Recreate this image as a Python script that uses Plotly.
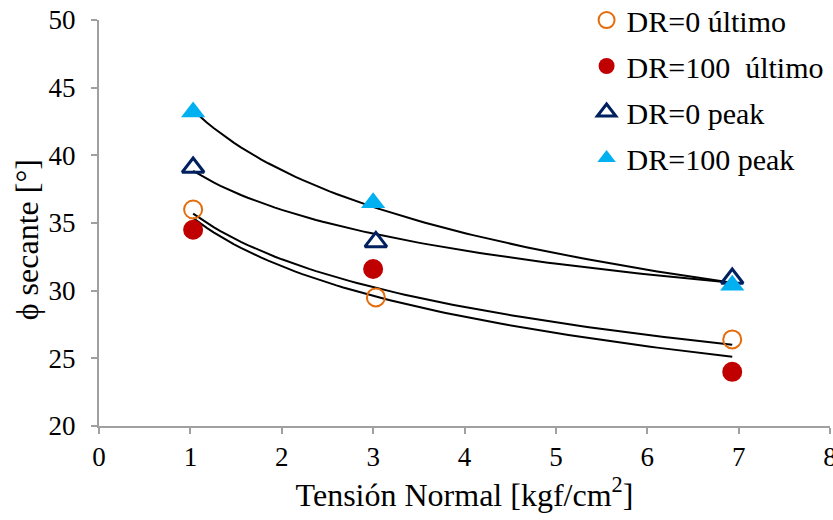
import numpy as np
import plotly.graph_objects as go

# Normal stress [kgf/cm2] and secant friction angle [deg] for each series
x_dr0_ult = [1.03, 3.03, 6.93]
y_dr0_ult = [36.0, 29.5, 26.4]

x_dr100_ult = [1.03, 3.0, 6.93]
y_dr100_ult = [34.5, 31.6, 24.0]

x_dr0_peak = [1.03, 3.03, 6.93]
y_dr0_peak = [39.1, 33.6, 30.9]

x_dr100_peak = [1.03, 3.0, 6.93]
y_dr100_peak = [43.2, 36.5, 30.4]

names = ["DR=0 último", "DR=100\u00a0 último", "DR=0 peak", "DR=100 peak"]

x_ticks = [0, 1, 2, 3, 4, 5, 6, 7, 8]
y_ticks = [20, 25, 30, 35, 40, 45, 50]

FONT = "Liberation Serif"

series = [
    (x_dr0_ult, y_dr0_ult, dict(symbol="circle-open", color="#E46C0A", size=18,
                                line=dict(width=2, color="#E46C0A"))),
    (x_dr100_ult, y_dr100_ult, dict(symbol="circle", color="#C00000", size=20)),
    (x_dr0_peak, y_dr0_peak, dict(symbol="triangle-up-open", color="#002060", size=19,
                                  line=dict(width=3, color="#002060"))),
    (x_dr100_peak, y_dr100_peak, dict(symbol="triangle-up", color="#00B0F0", size=21)),
]

fig = go.Figure()

# Logarithmic trend lines (y = a ln x + b) fitted to each series
for xs, ys, _ in series:
    xa = np.array(xs, dtype=float)
    a, b = np.polyfit(np.log(xa), np.array(ys, dtype=float), 1)
    xt = np.linspace(xa.min(), xa.max(), 80)
    fig.add_trace(go.Scatter(x=xt, y=a * np.log(xt) + b, mode="lines",
                             line=dict(color="black", width=2),
                             showlegend=False, hoverinfo="skip"))

for i, (xs, ys, mk) in enumerate(series):
    fig.add_trace(go.Scatter(x=xs, y=ys, mode="markers", name=names[i],
                             marker=mk, legendgroup=f"g{i}", cliponaxis=False))

axis_common = dict(
    showgrid=False, zeroline=False, showline=True, linecolor="#A0A0A0",
    linewidth=2, ticks="outside", ticklen=6, tickwidth=2, tickcolor="#A0A0A0",
    tickfont=dict(family=FONT, size=27, color="black"), automargin=False,
)

fig.update_layout(
    template="none",
    width=833, height=520,
    margin=dict(l=99, r=3, t=20, b=94, autoexpand=False),
    paper_bgcolor="white", plot_bgcolor="white",
    font=dict(family=FONT, color="black", size=26),
    xaxis=dict(range=[0, 8], tickvals=x_ticks, ticklabelstandoff=0,
               ticklabeloverflow="allow",
               title=dict(text="Tensión Normal [kgf/cm<sup>2</sup>]",
                          font=dict(family=FONT, size=32), standoff=10),
               **axis_common),
    yaxis=dict(range=[20, 50], tickvals=y_ticks, ticklabelstandoff=10,
               **axis_common),
    legend=dict(x=0.667, y=1.064, xanchor="left", yanchor="top",
                font=dict(family=FONT, size=30), bgcolor="rgba(0,0,0,0)",
                tracegroupgap=4, itemsizing="trace"),
)

# Vertical axis title
fig.add_annotation(text="ϕ secante [°]", xref="paper", yref="paper",
                   x=-0.0985, y=0.46, xanchor="center", yanchor="middle",
                   textangle=-90, showarrow=False,
                   font=dict(family=FONT, size=32, color="black"))

fig.write_html("out.html")
